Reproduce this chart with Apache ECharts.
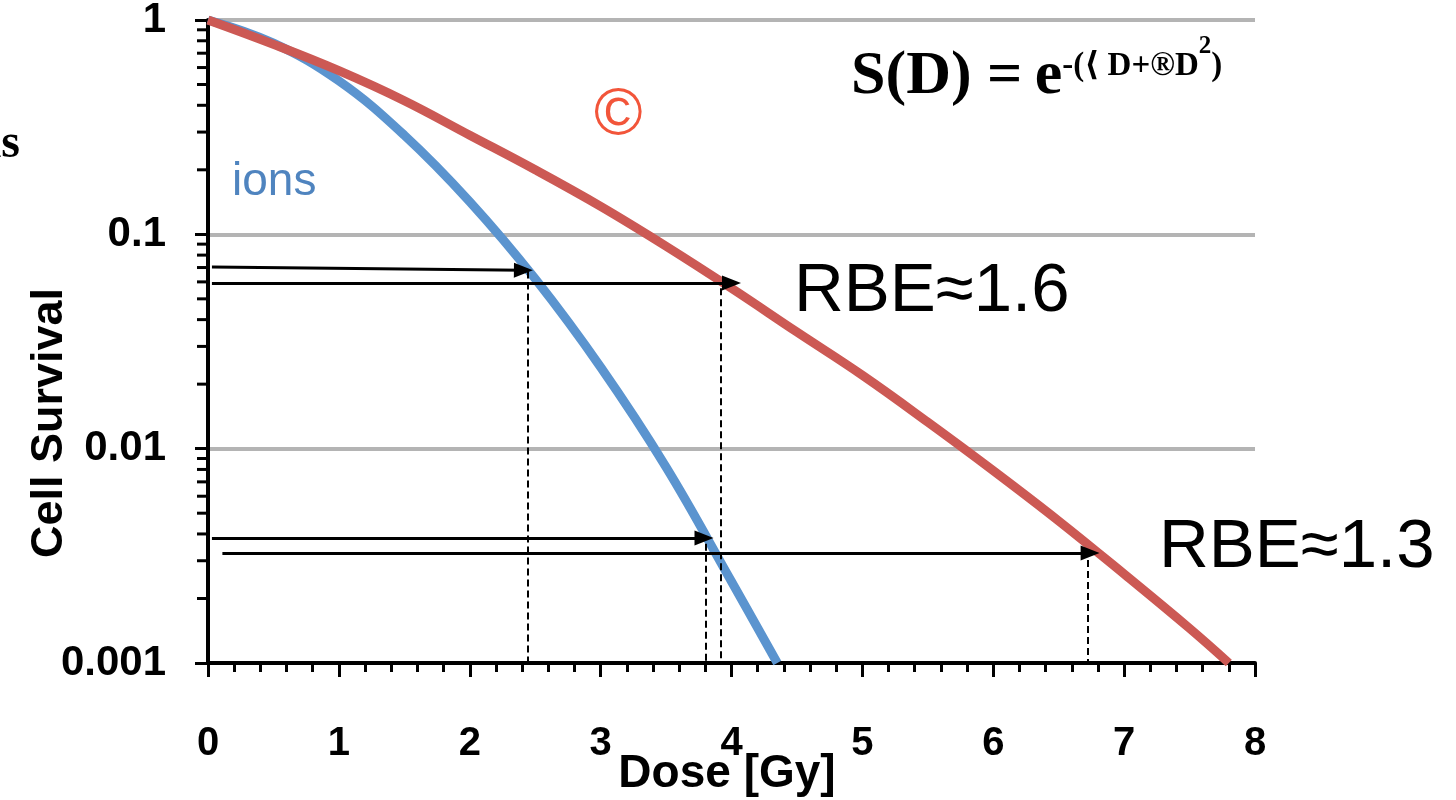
<!DOCTYPE html>
<html>
<head>
<meta charset="utf-8">
<title>Cell Survival</title>
<script src="https://cdn.jsdelivr.net/npm/echarts@6/dist/echarts.min.js"></script>
<style>
  html, body { margin: 0; padding: 0; background: #fff; }
  #chart { width: 1456px; height: 800px; }
</style>
</head>
<body>
<div id="chart"></div>
<script>
// dose axis (Gy) and survival
const doseTicks = [0, 1, 2, 3, 4, 5, 6, 7, 8];
const survTickLabels = ['0.001', '0.01', '0.1', '1'];
const survMinorTicks = [
  0.002, 0.003, 0.004, 0.005, 0.006, 0.007, 0.008, 0.009,
  0.02, 0.03, 0.04, 0.05, 0.06, 0.07, 0.08, 0.09,
  0.2, 0.3, 0.4, 0.5, 0.6, 0.7, 0.8, 0.9
];

// red curve (photons)
const redDose = [0, 0.5, 1, 1.5, 2, 2.5, 3, 3.5, 4, 4.5, 5, 5.5, 6, 6.5, 7, 7.5, 7.8];
const redSurv = [1, 0.77, 0.58, 0.42, 0.29, 0.2, 0.135, 0.088, 0.056, 0.035, 0.022, 0.0133, 0.0079, 0.0046, 0.0026, 0.00145, 0.001];

// blue curve (ions)
const blueDose = [0, 0.5, 1, 1.5, 2, 2.5, 3, 3.5, 4, 4.35];
const blueSurv = [1, 0.78, 0.52, 0.29, 0.142, 0.062, 0.024, 0.0082, 0.0024, 0.001];

// arrows: start dose/surv -> end dose/surv
const arrowFromDose = [0.03, 0.03, 0.03, 0.11];
const arrowFromSurv = [0.0704, 0.0593, 0.00383, 0.00326];
const arrowToDose = [2.41, 4.0, 3.79, 6.74];
const arrowToSurv = [0.068, 0.0593, 0.00383, 0.00326];

// dashed drop lines
const dropDose = [2.44, 3.915, 3.8, 6.72];
const dropTop = [0.067, 0.056, 0.0036, 0.0034];
const dropBottom = 0.001;

const FONT = '"Liberation Sans", Arial, sans-serif';
const SERIF = '"Liberation Serif", "Times New Roman", "DejaVu Serif", serif';

const chart = echarts.init(document.getElementById('chart'), null, { renderer: 'canvas' });

const arrowLines = arrowFromDose.map((d, i) => [
  { coord: [d, arrowFromSurv[i]], symbol: 'none' },
  { coord: [arrowToDose[i], arrowToSurv[i]], symbol: 'triangle', symbolSize: [15, 19] }
]);
const dropLines = dropDose.map((d, i) => [
  { coord: [d, dropTop[i]], symbol: 'none' },
  { coord: [d, dropBottom], symbol: 'none' }
]);

const option = {
  animation: false,
  backgroundColor: '#fff',
  grid: { left: 208, right: 201, top: 20, bottom: 137, containLabel: false, outerBoundsMode: 'none' },
  xAxis: {
    type: 'value',
    min: 0,
    max: 8,
    interval: 1,
    axisLine: { show: true, onZero: false, lineStyle: { color: '#000', width: 4 } },
    axisTick: { show: true, length: 14, lineStyle: { color: '#000', width: 3 } },
    minorTick: { show: true, splitNumber: 5, length: 9, lineStyle: { color: '#000', width: 3 } },
    splitLine: { show: false },
    axisLabel: {
      margin: 61,
      fontFamily: FONT,
      fontWeight: 'bold',
      fontSize: 40,
      color: '#000',
      formatter: v => String(doseTicks[Math.round(v)])
    }
  },
  yAxis: {
    type: 'log',
    logBase: 10,
    min: 0.001,
    max: 1,
    axisLine: { show: true, lineStyle: { color: '#000', width: 4 } },
    axisTick: { show: true, length: 13, lineStyle: { color: '#000', width: 3 } },
    minorTick: { show: false },
    splitLine: { show: true, lineStyle: { color: '#b4b4b4', width: 4 } },
    axisLabel: {
      margin: 42,
      fontFamily: FONT,
      fontWeight: 'bold',
      fontSize: 42,
      color: '#000',
      formatter: v => survTickLabels[Math.round(Math.log10(v)) + 3]
    }
  },
  series: [
    {
      name: 'ions',
      type: 'line',
      smooth: 0.4,
      showSymbol: false,
      lineStyle: { color: '#5b94cf', width: 9 },
      data: blueDose.map((d, i) => [d, blueSurv[i]]),
      z: 3
    },
    {
      name: 'photons',
      type: 'line',
      smooth: 0.4,
      showSymbol: false,
      lineStyle: { color: '#cc5954', width: 9 },
      data: redDose.map((d, i) => [d, redSurv[i]]),
      z: 4
    },
    {
      name: 'annotations',
      type: 'line',
      data: [],
      z: 5,
      markLine: {
        silent: true,
        animation: false,
        label: { show: false },
        lineStyle: { color: '#000', width: 3, type: 'solid' },
        data: arrowLines
      }
    },
    {
      name: 'drops',
      type: 'line',
      data: [],
      z: 5,
      markLine: {
        silent: true,
        animation: false,
        label: { show: false },
        symbol: ['none', 'none'],
        lineStyle: { color: '#000', width: 2, type: [7, 4] },
        data: dropLines
      }
    },
    {
      name: 'minorTicksY',
      type: 'custom',
      coordinateSystem: 'cartesian2d',
      clip: false,
      silent: true,
      z: 6,
      data: survMinorTicks.map(v => [0, v]),
      renderItem: (params, api) => {
        const p = api.coord([api.value(0), api.value(1)]);
        return {
          type: 'line',
          shape: { x1: p[0] - 11, y1: p[1], x2: p[0], y2: p[1] },
          style: { stroke: '#000', lineWidth: 3 }
        };
      }
    }
  ],
  graphic: [
    {
      type: 'text', x: 50, y: 423, rotation: Math.PI / 2,
      style: {
        text: 'Cell Survival', fontFamily: FONT, fontWeight: 'bold', fontSize: 45, fill: '#000',
        align: 'center', verticalAlign: 'middle'
      }
    },
    {
      type: 'text', x: 727, y: 774,
      style: {
        text: 'Dose [Gy]', fontFamily: FONT, fontWeight: 'bold', fontSize: 46, fill: '#000',
        align: 'center', verticalAlign: 'middle'
      }
    },
    {
      type: 'text', left: -12, top: 121,
      style: { text: 'ıs', fontFamily: SERIF, fontWeight: 'bold', fontSize: 48, fill: '#000' }
    },
    {
      type: 'text', left: 232, top: 159,
      style: { text: 'ions', fontFamily: FONT, fontSize: 46, fill: '#4f84bf' }
    },
    {
      type: 'text', left: 594, top: 83,
      style: { text: '©', fontFamily: FONT, fontSize: 66, fill: '#f2553a' }
    },
    {
      type: 'text', left: 794, top: 257,
      style: { text: 'RBE≈1.6', fontFamily: FONT, fontSize: 69, fill: '#000' }
    },
    {
      type: 'text', left: 1159, top: 513,
      style: { text: 'RBE≈1.3', fontFamily: FONT, fontSize: 69, fill: '#000' }
    },
    {
      type: 'text', left: 851, top: 30,
      style: {
        text: '{b|S(D) =\u2009e}{s|-(⟨ D+®D}{t|2}{s|)}',
        rich: {
          b: { fontFamily: SERIF, fontWeight: 'bold', fontSize: 62, lineHeight: 62, fill: '#000', verticalAlign: 'top', padding: [16, 0, 0, 0] },
          s: { fontFamily: SERIF, fontWeight: 'bold', fontSize: 33, lineHeight: 33, fill: '#000', verticalAlign: 'top', padding: [20, 0, 0, 0] },
          t: { fontFamily: SERIF, fontWeight: 'bold', fontSize: 25, lineHeight: 25, fill: '#000', verticalAlign: 'top', padding: [4, 0, 0, 0] }
        }
      }
    }
  ]
};

chart.setOption(option);
</script>
</body>
</html>
